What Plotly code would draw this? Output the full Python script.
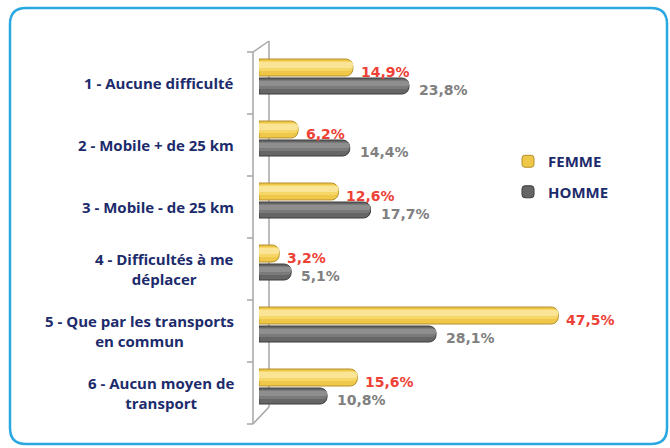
import plotly.graph_objects as go

categories = [
    "1 - Aucune difficulté",
    "2 - Mobile + de 25 km",
    "3 - Mobile - de 25 km",
    "4 - Difficultés à me<br>déplacer",
    "5 - Que par les transports<br>en commun",
    "6 - Aucun moyen de<br>transport",
]
femme = [14.9, 6.2, 12.6, 3.2, 47.5, 15.6]
homme = [23.8, 14.4, 17.7, 5.1, 28.1, 10.8]
femme_labels = ["14,9%", "6,2%", "12,6%", "3,2%", "47,5%", "15,6%"]
homme_labels = ["23,8%", "14,4%", "17,7%", "5,1%", "28,1%", "10,8%"]

W, H = 670, 448
L, R, T, B = 259, 20, 52, 24
PW, PH = W - L - R, H - T - B
XMAX = PW / 6.3
CAT = PH / 6.0  # pixels per category

def xp(px):
    return (px - L) / PW

def yp(py):
    return (H - B - py) / PH

ycat = list(range(len(categories)))

fig = go.Figure()

YEL, YEL_LN = "#efc84a", "#b58f2a"
GRY, GRY_LN = "#666666", "#3a3a3a"
YEL_BANDS = [("#f5d667", -22, 10), ("#fae596", -21, 6)]
GRY_BANDS = [("#7a7a7a", -3, 9), ("#8e8e8e", -2, 5)]

# base bars
fig.add_trace(go.Bar(
    y=ycat, x=femme, orientation="h", name="FEMME",
    offset=-24 / CAT, width=17 / CAT,
    marker=dict(color=YEL, line=dict(color=YEL_LN, width=1), cornerradius=7),
    legendgroup="f", hoverinfo="skip",
))
fig.add_trace(go.Bar(
    y=ycat, x=homme, orientation="h", name="HOMME",
    offset=-5 / CAT, width=16 / CAT,
    marker=dict(color=GRY, line=dict(color=GRY_LN, width=1), cornerradius=7),
    legendgroup="h", hoverinfo="skip",
))
# shading bands (cylinder look)
for col, off, wd in YEL_BANDS:
    fig.add_trace(go.Bar(
        y=ycat, x=femme, orientation="h", showlegend=False,
        offset=off / CAT, width=wd / CAT,
        marker=dict(color=col, line=dict(width=0), cornerradius=4),
        hoverinfo="skip",
    ))
for col, off, wd in GRY_BANDS:
    fig.add_trace(go.Bar(
        y=ycat, x=homme, orientation="h", showlegend=False,
        offset=off / CAT, width=wd / CAT,
        marker=dict(color=col, line=dict(width=0), cornerradius=4),
        hoverinfo="skip",
    ))

annotations = []
for i, c in enumerate(categories):
    annotations.append(dict(
        xref="paper", yref="y", x=xp(236), y=i, xanchor="right", yanchor="middle",
        text=c, showarrow=False, align="center",
        font=dict(family="Open Sans", size=15, color="#1c2b6b", weight="bold"),
    ))
    annotations.append(dict(
        xref="x", yref="y", x=femme[i], y=i, xanchor="left", yanchor="middle",
        xshift=6, yshift=11.5, text=femme_labels[i], showarrow=False,
        font=dict(family="DejaVu Sans", size=14, color="#ee4136", weight="bold"),
    ))
    annotations.append(dict(
        xref="x", yref="y", x=homme[i], y=i, xanchor="left", yanchor="middle",
        xshift=8, yshift=-6.5, text=homme_labels[i], showarrow=False,
        font=dict(family="DejaVu Sans", size=14, color="#808080", weight="bold"),
    ))

shapes = []
WALL = dict(color="#a6a6a6", width=1.5)
def seg(x0, y0, x1, y1, line=WALL):
    shapes.append(dict(type="line", xref="paper", yref="paper",
                       x0=xp(x0), y0=yp(y0), x1=xp(x1), y1=yp(y1),
                       line=line, layer="below"))

seg(253, 52, 253, 424)
seg(269, 41, 269, 407)
seg(253, 52, 269, 41)
seg(253, 424, 269, 407)
for k in range(7):
    yb = 52 + 62 * k
    seg(247, yb, 253, yb)

# rounded border
x0, x1, y0, y1, r = 10, 667, 8, 444, 16
path = (
    f"M {xp(x0 + r)},{yp(y0)} L {xp(x1 - r)},{yp(y0)} "
    f"Q {xp(x1)},{yp(y0)} {xp(x1)},{yp(y0 + r)} "
    f"L {xp(x1)},{yp(y1 - r)} Q {xp(x1)},{yp(y1)} {xp(x1 - r)},{yp(y1)} "
    f"L {xp(x0 + r)},{yp(y1)} Q {xp(x0)},{yp(y1)} {xp(x0)},{yp(y1 - r)} "
    f"L {xp(x0)},{yp(y0 + r)} Q {xp(x0)},{yp(y0)} {xp(x0 + r)},{yp(y0)} Z"
)
shapes.append(dict(type="path", xref="paper", yref="paper", path=path,
                   line=dict(color="#2aa8e2", width=2.5), layer="below"))

fig.update_layout(
    width=W, height=H,
    margin=dict(l=L, r=R, t=T, b=B),
    paper_bgcolor="white", plot_bgcolor="rgba(0,0,0,0)",
    barmode="overlay",
    xaxis=dict(range=[0, XMAX], visible=False, fixedrange=True),
    yaxis=dict(range=[5.5, -0.5], visible=False, fixedrange=True),
    showlegend=True,
    legend=dict(
        x=xp(508), y=yp(145), xanchor="left", yanchor="top",
        font=dict(family="Open Sans", size=15, color="#1c2b6b", weight="bold"),
        tracegroupgap=8, bgcolor="rgba(0,0,0,0)", itemwidth=30,
    ),
    annotations=annotations,
    shapes=shapes,
)

fig.write_html(
    "out.html",
    config={"displayModeBar": False},
    post_script="document.body.style.margin='0px';document.body.style.overflow='hidden';",
)
